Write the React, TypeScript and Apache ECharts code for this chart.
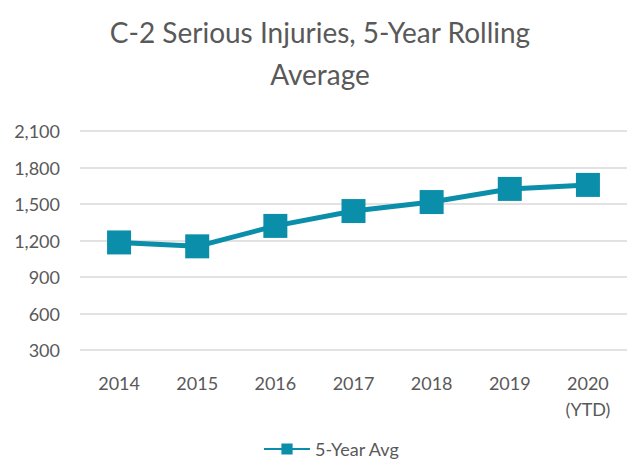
import React, { useEffect, useRef } from "react";
import * as echarts from "echarts";

const categories = ["2014", "2015", "2016", "2017", "2018", "2019", "2020\n(YTD)"];
const avgValues = [1184, 1152, 1320, 1442, 1516, 1624, 1657];
const seriesName = "5-Year Avg";
const titleText = "C-2 Serious Injuries, 5-Year Rolling\nAverage";

export default function App() {
  const ref = useRef<HTMLDivElement>(null);
  useEffect(() => {
    if (!ref.current) return;
    const chart = echarts.init(ref.current, undefined, { renderer: "svg" });
    const font = "Lato, 'Open Sans', sans-serif";
    chart.setOption({
      animation: false,
      backgroundColor: "#ffffff",
      title: {
        text: titleText,
        left: 315,
        textAlign: "center",
        top: 6,
        textStyle: {
          fontFamily: font,
          fontSize: 28,
          fontWeight: "normal",
          color: "#595959",
          lineHeight: 42,
        },
      },
      legend: {
        bottom: 0,
        left: 258,
        itemWidth: 46,
        itemHeight: 14,
        itemGap: 4,
        textStyle: { fontFamily: font, fontSize: 18, color: "#595959" },
        data: [seriesName],
      },
      grid: { left: 80, right: -3, top: 131, bottom: 113 },
      xAxis: {
        type: "category",
        data: categories,
        boundaryGap: true,
        axisLine: { show: false },
        axisTick: { show: false },
        axisLabel: {
          margin: 20,
          fontFamily: font,
          fontSize: 18,
          color: "#595959",
          lineHeight: 26,
          interval: 0,
        },
      },
      yAxis: {
        type: "value",
        min: 300,
        max: 2100,
        interval: 300,
        axisLine: { show: false },
        axisTick: { show: false },
        splitLine: { lineStyle: { color: "#d9d9d9", width: 1.5 } },
        axisLabel: {
          margin: 20,
          fontFamily: font,
          fontSize: 18,
          color: "#595959",
          formatter: (v: number) => v.toLocaleString("en-US"),
        },
      },
      series: [
        {
          name: seriesName,
          type: "line",
          data: avgValues,
          symbol: "rect",
          symbolSize: 24,
          lineStyle: { color: "#0a8ea9", width: 5 },
          itemStyle: { color: "#0a8ea9" },
        },
      ],
    });
    return () => chart.dispose();
  }, []);
  return (
    <div
      ref={ref}
      style={{ position: "absolute", left: 0, top: 0, width: 627, height: 463 }}
    />
  );
}
